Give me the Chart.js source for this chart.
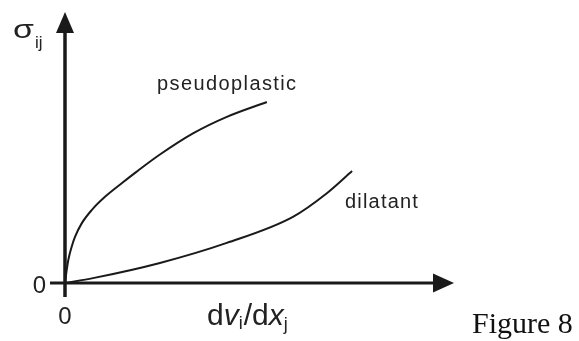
<!DOCTYPE html>
<html>
<head>
<meta charset="utf-8">
<script src="https://cdn.jsdelivr.net/npm/chart.js@4/dist/chart.umd.min.js"></script>
<style>
  html, body { margin: 0; padding: 0; background: #fff; }
  #wrap { width: 579px; height: 341px; }
</style>
</head>
<body>
<div id="wrap"><canvas id="c" width="579" height="341"></canvas></div>
<script>
// Shear rate (x) and shear stress (y), arbitrary units
const pseudoX = [0, 0.44, 0.85, 1.72, 2.57, 4.29, 6.86, 10.28, 14.58, 18.43, 24.4, 32.9, 41.6, 51.9];
const pseudoY = [0, 4.8, 8.5, 13.4, 17.0, 22.0, 26.9, 31.8, 36.8, 41.1, 47.4, 55.2, 61.3, 66.8];
const dilatX = [0, 7.2, 24.4, 41.6, 58.6, 67.4, 73.8];
const dilatY = [0, 1.8, 7.4, 14.8, 24.4, 33.2, 41.3];
const xTicks = ["0"];
const yTicks = ["0"];
const seriesNames = ["pseudoplastic", "dilatant"];

const toPts = (xs, ys) => xs.map((x, i) => ({ x: x, y: ys[i] }));
const SANS = 'Arial, "Liberation Sans", sans-serif';

const axesPlugin = {
  id: 'axesPlugin',
  afterDraw(chart) {
    const ctx = chart.ctx;
    const xs = chart.scales.x, ys = chart.scales.y;
    const x0 = xs.getPixelForValue(0), y0 = ys.getPixelForValue(0);
    const xL = xs.getPixelForValue(xs.min), xR = xs.getPixelForValue(xs.max);
    const yB = ys.getPixelForValue(ys.min), yT = ys.getPixelForValue(ys.max);
    ctx.save();
    ctx.strokeStyle = '#1a1a1a';
    ctx.fillStyle = '#1a1a1a';
    // y axis
    ctx.lineWidth = 3.5;
    ctx.beginPath(); ctx.moveTo(x0, yB); ctx.lineTo(x0, yT + 16); ctx.stroke();
    ctx.beginPath(); ctx.moveTo(x0, yT); ctx.lineTo(x0 - 9, yT + 21); ctx.lineTo(x0 + 9, yT + 21); ctx.closePath(); ctx.fill();
    // x axis
    ctx.lineWidth = 3;
    ctx.beginPath(); ctx.moveTo(xL, y0); ctx.lineTo(xR - 16, y0); ctx.stroke();
    ctx.beginPath(); ctx.moveTo(xR, y0); ctx.lineTo(xR - 21, y0 - 9.5); ctx.lineTo(xR - 21, y0 + 9.5); ctx.closePath(); ctx.fill();

    // tick labels
    ctx.fillStyle = '#222';
    ctx.font = '24px ' + SANS;
    ctx.textAlign = 'center'; ctx.textBaseline = 'middle';
    ctx.fillText(yTicks[0], 39.5, y0 + 3);
    ctx.fillText(xTicks[0], x0, 317);

    // axis titles
    ctx.textAlign = 'left'; ctx.textBaseline = 'alphabetic';
    let px = 207; const base = 325;
    const seg = (t, font, dy) => { ctx.font = font; ctx.fillText(t, px, base + dy); px += ctx.measureText(t).width; };
    seg('d', '30px ' + SANS, 0);
    seg('v', 'italic 30px ' + SANS, 0);
    seg('i', '18px ' + SANS, 4);
    px += 1;
    seg('/d', '30px ' + SANS, 0);
    seg('x', 'italic 30px ' + SANS, 0);
    seg('j', '18px ' + SANS, 5);

    ctx.save();
    ctx.translate(13, 38);
    ctx.scale(1.3, 1);
    ctx.font = '26px ' + SANS;
    ctx.fillText('σ', 0, 0);
    ctx.restore();
    ctx.font = '17px ' + SANS;
    ctx.fillText('ij', 35, 48);

    // series labels
    ctx.font = '20px ' + SANS;
    ctx.letterSpacing = '1.4px';
    ctx.fillText(seriesNames[0], 157, 90);
    ctx.letterSpacing = '1.2px';
    ctx.fillText(seriesNames[1], 345, 208);
    ctx.letterSpacing = '0px';

    // figure caption
    ctx.font = '30px "Liberation Serif", "Times New Roman", serif';
    ctx.fillStyle = '#111';
    ctx.fillText('Figure 8', 472, 333);
    ctx.restore();
  }
};

new Chart(document.getElementById('c'), {
  type: 'scatter',
  data: {
    datasets: [
      { label: seriesNames[0], data: toPts(pseudoX, pseudoY), showLine: true, borderColor: '#1a1a1a', borderWidth: 2, pointRadius: 0, cubicInterpolationMode: 'monotone', fill: false },
      { label: seriesNames[1], data: toPts(dilatX, dilatY), showLine: true, borderColor: '#1a1a1a', borderWidth: 2, pointRadius: 0, cubicInterpolationMode: 'monotone', fill: false }
    ]
  },
  options: {
    responsive: false,
    animation: false,
    devicePixelRatio: 1,
    clip: false,
    layout: { padding: { left: 50, right: 125, top: 12, bottom: 44 } },
    plugins: { legend: { display: false }, tooltip: { enabled: false } },
    scales: {
      x: { type: 'linear', min: -3.856, max: 100, display: false },
      y: { type: 'linear', min: -5.17, max: 100, display: false }
    }
  },
  plugins: [axesPlugin]
});
</script>
</body>
</html>
